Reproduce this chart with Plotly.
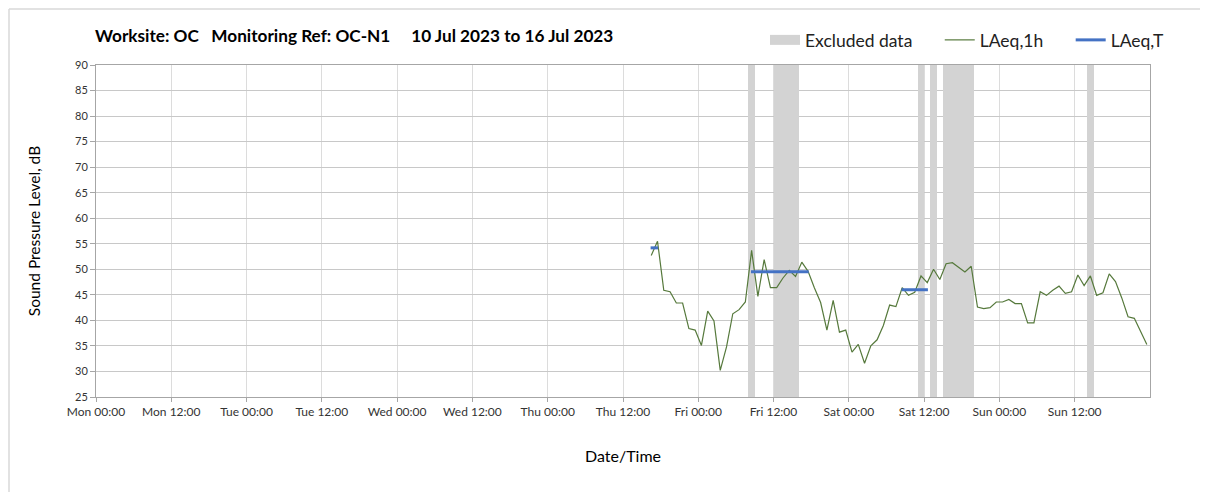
import datetime as dt
import plotly.graph_objects as go

# ---- data ----
start = dt.datetime(2023, 7, 10, 0, 0)  # Mon 00:00
hour_offsets = list(range(88, 168))  # hourly periods (hours from Mon 00:00)
laeq_1h = [52.7, 55.5, 45.9, 45.6, 43.4, 43.4, 38.4, 38.1, 35.1, 41.8,
           39.9, 30.2, 34.8, 41.3, 42.1, 43.6, 53.7, 44.7, 51.9, 46.4,
           46.4, 48.3, 49.8, 48.6, 51.4, 49.6, 46.4, 43.5, 38.1, 43.9,
           37.7, 38.1, 33.8, 35.3, 31.6, 35.0, 36.2, 39.0, 43.0, 42.7,
           46.4, 44.9, 45.5, 48.7, 47.4, 50.0, 48.0, 51.1, 51.3, 50.4,
           49.5, 50.6, 42.6, 42.3, 42.5, 43.6, 43.6, 44.1, 43.3, 43.3,
           39.5, 39.5, 45.6, 44.9, 45.9, 46.7, 45.3, 45.6, 48.9, 46.8,
           48.7, 44.9, 45.4, 49.1, 47.6, 44.4, 40.7, 40.4, 37.9, 35.3]

laeq_t_start = [88, 104, 128]   # first hour in period
laeq_t_end = [89, 113, 132]     # last hour in period
laeq_t_value = [54.2, 49.5, 46.0]

excl_start = [104, 108, 131, 133, 135, 158]
excl_end = [105, 112, 132, 134, 140, 159]

tick_hours = list(range(0, 168, 12))
tick_labels = ["Mon 00:00", "Mon 12:00", "Tue 00:00", "Tue 12:00", "Wed 00:00",
               "Wed 12:00", "Thu 00:00", "Thu 12:00", "Fri 00:00", "Fri 12:00",
               "Sat 00:00", "Sat 12:00", "Sun 00:00", "Sun 12:00"]

y_min, y_max = 25, 90


def t(h):
    return start + dt.timedelta(hours=h)


PAD = "&nbsp;" * 5

fig = go.Figure()

# excluded data bars
for s, e in zip(excl_start, excl_end):
    fig.add_trace(go.Bar(
        x=[t((s + e) / 2)], y=[y_max - y_min], base=[y_min],
        width=[(e - s) * 3600 * 1000],
        marker=dict(color="#d3d3d3", line=dict(width=0)),
        name="Excluded data", legendgroup="excl", showlegend=False,
        hoverinfo="skip",
    ))
# legend entry for excluded data (wide grey swatch)
fig.add_trace(go.Scatter(
    x=[None], y=[None], mode="lines",
    line=dict(color="#d3d3d3", width=12),
    name="Excluded data" + PAD, legendgroup="excl",
))

fig.add_trace(go.Scatter(
    x=[t(h + 0.5) for h in hour_offsets], y=laeq_1h,
    mode="lines", line=dict(color="#56793c", width=1.2),
    name="LAeq,1h" + PAD,
))

for i, (s, e, v) in enumerate(zip(laeq_t_start, laeq_t_end, laeq_t_value)):
    fig.add_trace(go.Scatter(
        x=[t(s + 0.4), t(e + 0.6)], y=[v, v],
        mode="lines", line=dict(color="#4472c4", width=3),
        name="LAeq,T", legendgroup="lt", showlegend=(i == 0),
    ))

font_family = "Lato, 'Open Sans', sans-serif"

W, H = 1200, 484
ML, MR, MT, MB = 88, 58, 57, 95
pw, ph = W - ML - MR, H - MT - MB

fig.update_layout(
    width=W, height=H,
    margin=dict(l=ML, r=MR, t=MT, b=MB, autoexpand=False),
    paper_bgcolor="white", plot_bgcolor="white",
    barmode="overlay", bargap=0,
    font=dict(family=font_family, color="#000000"),
    title=dict(
        text="<b>Worksite: OC&nbsp;&nbsp;&nbsp;Monitoring Ref: OC-N1&nbsp;&nbsp;&nbsp;&nbsp;&nbsp;10 Jul 2023 to 16 Jul 2023</b>",
        x=87 / W, xanchor="left", y=1 - 28 / H, yanchor="middle",
        font=dict(size=17.2, color="#000000", family=font_family),
    ),
    legend=dict(
        orientation="h", x=(757 - ML) / pw, xanchor="left",
        y=1 + (MT - 32) / ph, yanchor="middle",
        font=dict(size=17.5, color="#222222"), bgcolor="rgba(0,0,0,0)",
        traceorder="normal",
    ),
    xaxis=dict(
        type="date",
        range=[t(0), t(168)],
        tickmode="array", tickvals=[t(h) for h in tick_hours], ticktext=tick_labels,
        showgrid=True, gridcolor="#dcdcdc", gridwidth=1,
        showline=True, linecolor="#a6a6a6", mirror=True,
        ticks="outside", ticklen=4, tickcolor="#a6a6a6",
        tickfont=dict(size=12, color="#333333"),
        title=dict(text="Date/Time", font=dict(size=16), standoff=32),
        zeroline=False, automargin=False,
    ),
    yaxis=dict(
        range=[y_min, y_max], dtick=5, tick0=25,
        showgrid=True, gridcolor="#c8c8c8", gridwidth=1,
        showline=True, linecolor="#a6a6a6", mirror=True,
        ticks="outside", ticklen=5, tickcolor="#a6a6a6",
        tickfont=dict(size=11, color="#333333"),
        title=dict(text="Sound Pressure Level, dB", font=dict(size=15.5), standoff=30),
        zeroline=False, automargin=False,
    ),
    showlegend=True,
)

# outer chart border (left and top edges)
fig.add_shape(type="line", xref="paper", yref="paper",
              x0=(1 - ML) / pw, x1=(1 - ML) / pw, y0=(ph + MT - H - 10) / ph, y1=1 + (MT - 1) / ph,
              line=dict(color="#d9d9d9", width=1.5), layer="below")
fig.add_shape(type="line", xref="paper", yref="paper",
              x0=(1 - ML) / pw, x1=(W + 10 - ML) / pw, y0=1 + (MT - 1) / ph, y1=1 + (MT - 1) / ph,
              line=dict(color="#d9d9d9", width=1.5), layer="below")

fig.write_html("out.html")
